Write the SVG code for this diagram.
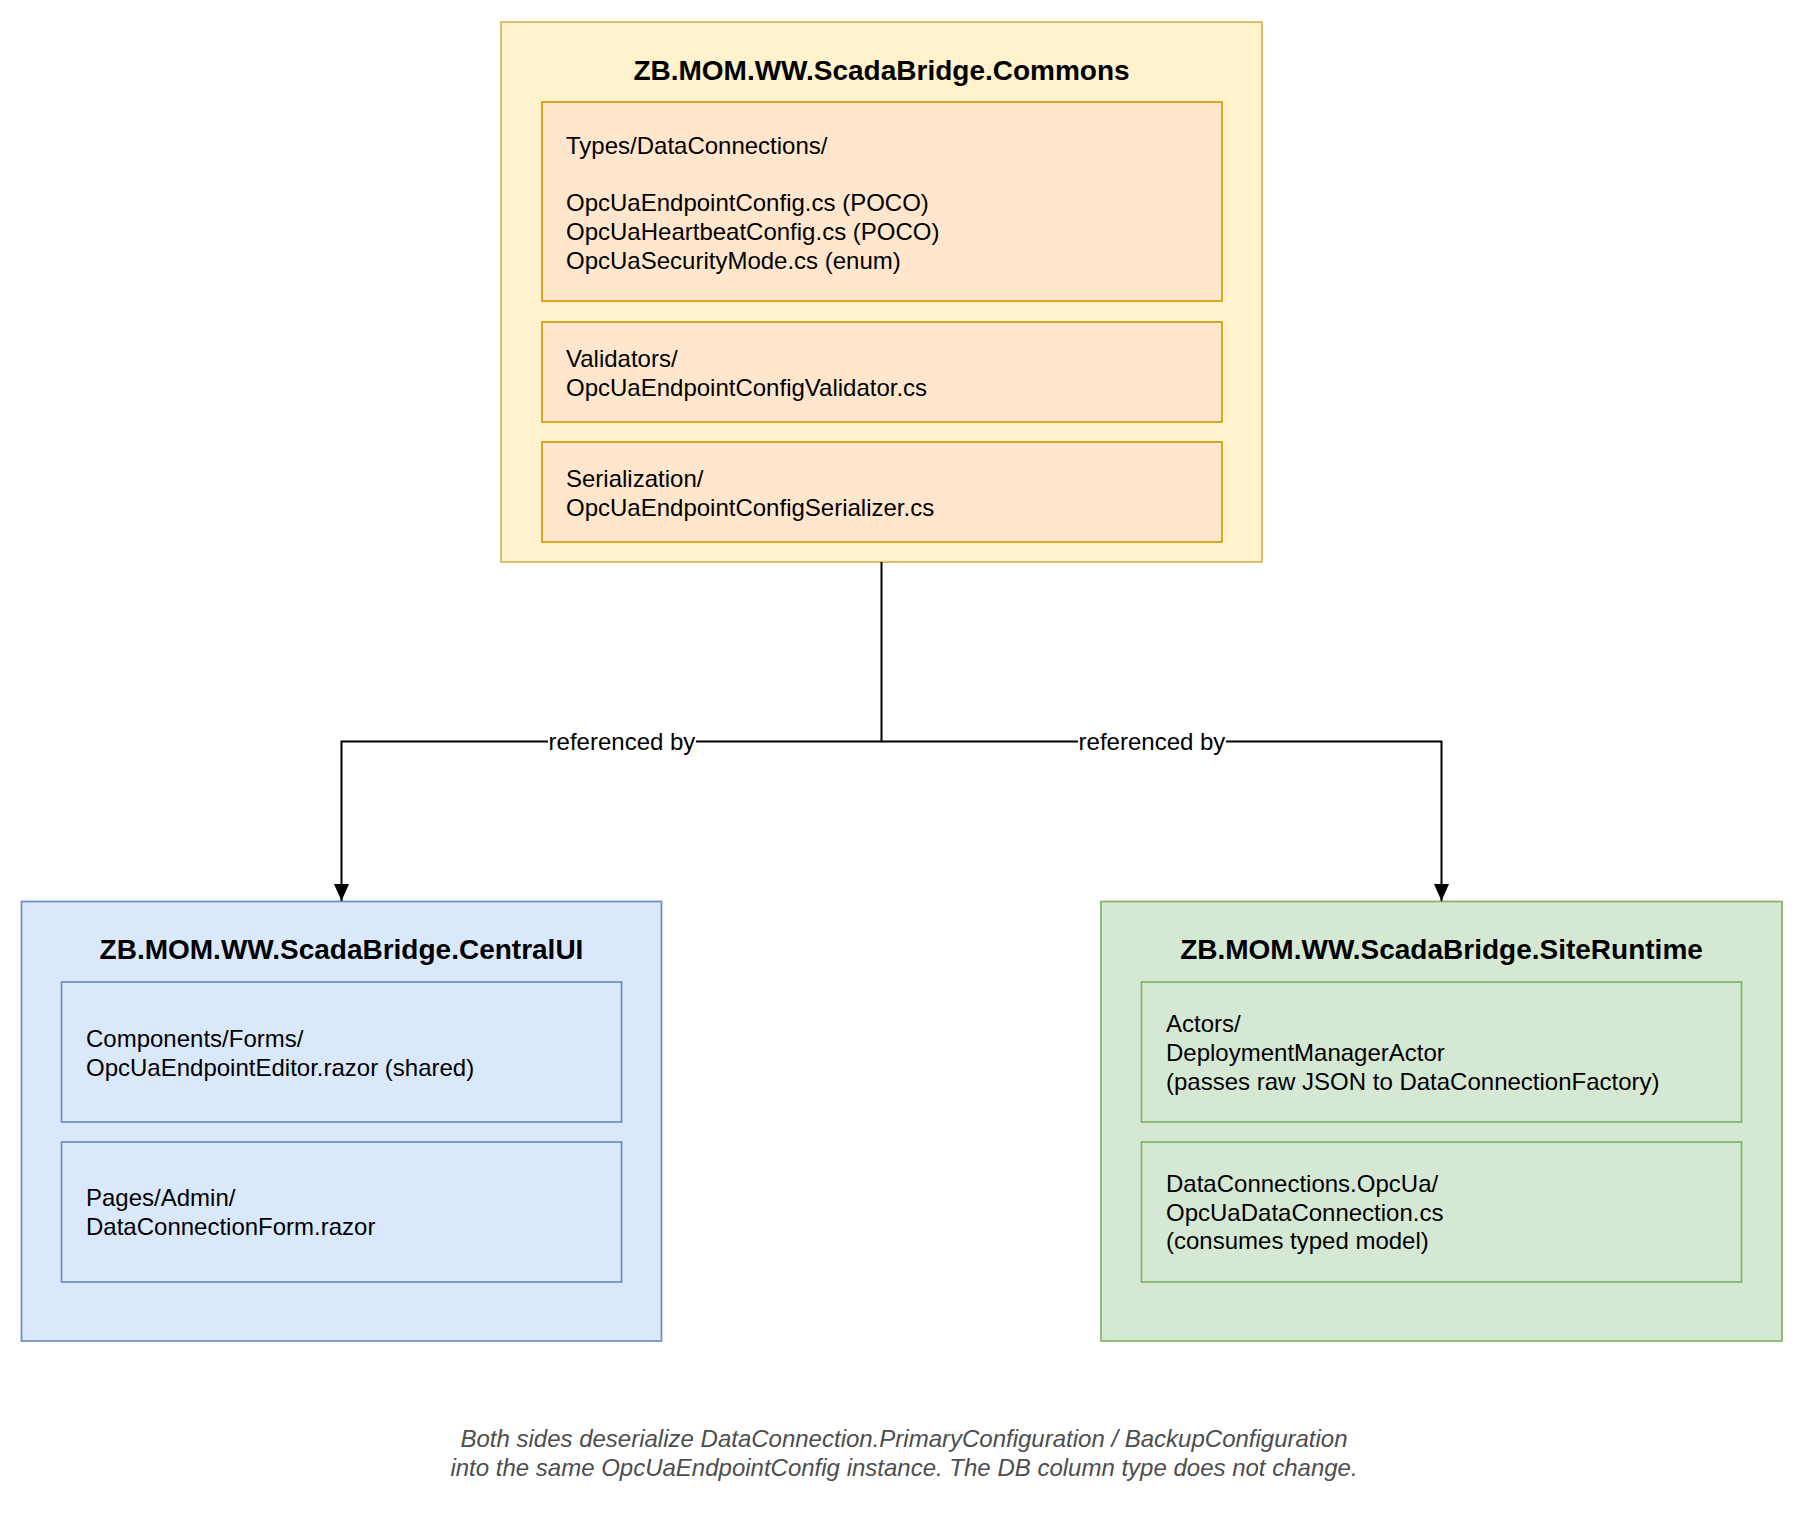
<svg xmlns="http://www.w3.org/2000/svg" width="1795" height="1514" viewBox="0 0 1795 1514">
<defs>
<marker id="arr" markerWidth="17" markerHeight="15" refX="17" refY="7.5" orient="auto" markerUnits="userSpaceOnUse" viewBox="0 0 17 15">
<path d="M0,0 L17,7.5 L0,15 z" fill="#000"/>
</marker>
<style>
text{font-family:"Liberation Sans",Arial,Helvetica,sans-serif;fill:#000}
.title{font-size:28px;font-weight:bold;text-anchor:middle}
.body{font-size:24px}
.lbl{font-size:24px;text-anchor:middle}
.note{font-size:24px;font-style:italic;fill:#4d4d4d;text-anchor:middle}
.yo{fill:#fff2cc;stroke:#d6b656;stroke-width:1.7}
.yi{fill:#ffe6cc;stroke:#d79b00;stroke-width:1.7}
.bo,.bi{fill:#dae8fc;stroke:#6c8ebf;stroke-width:1.7}
.go,.gi{fill:#d5e8d4;stroke:#82b366;stroke-width:1.7}
.edge{fill:none;stroke:#000;stroke-width:2}
</style>
</defs>
<rect width="1795" height="1514" fill="#fff"/>
<g id="commons">
<rect class="yo" x="501" y="22" width="761" height="540"/>
<text class="title" x="881.5" y="80">ZB.MOM.WW.ScadaBridge.Commons</text>
<g id="commons-types">
<rect class="yi" x="542" y="102" width="680" height="199"/>
<text class="body" x="566" y="153.6">Types/DataConnections/</text>
<text class="body" x="566" y="211.4">OpcUaEndpointConfig.cs (POCO)</text>
<text class="body" x="566" y="240.2">OpcUaHeartbeatConfig.cs (POCO)</text>
<text class="body" x="566" y="269">OpcUaSecurityMode.cs (enum)</text>
</g>
<g id="commons-validators">
<rect class="yi" x="542" y="322" width="680" height="100"/>
<text class="body" x="566" y="367">Validators/</text>
<text class="body" x="566" y="396">OpcUaEndpointConfigValidator.cs</text>
</g>
<g id="commons-serialization">
<rect class="yi" x="542" y="442" width="680" height="100"/>
<text class="body" x="566" y="487">Serialization/</text>
<text class="body" x="566" y="516">OpcUaEndpointConfigSerializer.cs</text>
</g>
</g>
<g id="centralui">
<rect class="bo" x="21.5" y="901.5" width="640" height="439.5"/>
<text class="title" x="341.5" y="959">ZB.MOM.WW.ScadaBridge.CentralUI</text>
<g id="centralui-components">
<rect class="bi" x="61.5" y="982" width="560" height="140"/>
<text class="body" x="86" y="1047">Components/Forms/</text>
<text class="body" x="86" y="1075.8">OpcUaEndpointEditor.razor (shared)</text>
</g>
<g id="centralui-pages">
<rect class="bi" x="61.5" y="1142" width="560" height="140"/>
<text class="body" x="86" y="1206.2">Pages/Admin/</text>
<text class="body" x="86" y="1235">DataConnectionForm.razor</text>
</g>
</g>
<g id="siteruntime">
<rect class="go" x="1101" y="901.5" width="681" height="439.5"/>
<text class="title" x="1441.5" y="958.5">ZB.MOM.WW.ScadaBridge.SiteRuntime</text>
<g id="siteruntime-actors">
<rect class="gi" x="1141.5" y="982" width="600" height="140"/>
<text class="body" x="1166" y="1032">Actors/</text>
<text class="body" x="1166" y="1061">DeploymentManagerActor</text>
<text class="body" x="1166" y="1089.6">(passes raw JSON to DataConnectionFactory)</text>
</g>
<g id="siteruntime-opcua">
<rect class="gi" x="1141.5" y="1142" width="600" height="140"/>
<text class="body" x="1166" y="1191.8">DataConnections.OpcUa/</text>
<text class="body" x="1166" y="1220.6">OpcUaDataConnection.cs</text>
<text class="body" x="1166" y="1249.4">(consumes typed model)</text>
</g>
</g>
<g id="connectors">
<path class="edge" d="M881.5,562 V741.5 H341.5 V901" marker-end="url(#arr)"/>
<path class="edge" d="M881.5,741.5 H1441.5 V901" marker-end="url(#arr)"/>
<rect x="548" y="728" width="148" height="27" fill="#fff"/>
<text class="lbl" x="622" y="750">referenced by</text>
<rect x="1078" y="728" width="148" height="27" fill="#fff"/>
<text class="lbl" x="1152" y="750">referenced by</text>
</g>
<g id="note">
<text class="note" x="904" y="1447">Both sides deserialize DataConnection.PrimaryConfiguration / BackupConfiguration</text>
<text class="note" x="904" y="1476">into the same OpcUaEndpointConfig instance. The DB column type does not change.</text>
</g>
</svg>
